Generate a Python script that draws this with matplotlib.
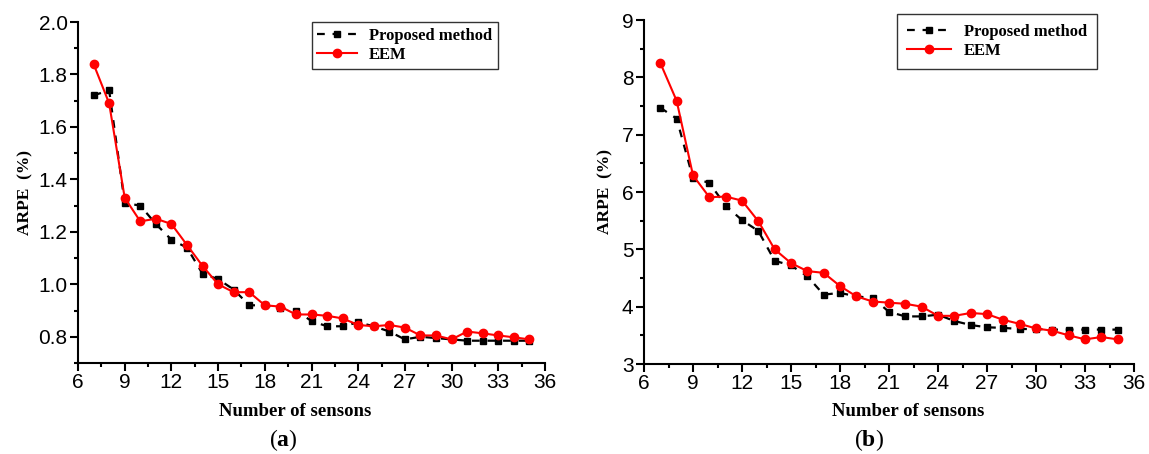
import numpy as np
import matplotlib
matplotlib.use("Agg")
import matplotlib.pyplot as plt
from matplotlib.ticker import MultipleLocator, FormatStrFormatter

plt.rcParams["font.family"] = ["Liberation Sans", "DejaVu Sans"]
plt.rcParams["mathtext.fontset"] = "custom"
plt.rcParams["mathtext.rm"] = "Liberation Serif"
plt.rcParams["mathtext.bf"] = "Liberation Serif:bold"

# number of sensors on the x axis
n_sensors = list(range(7, 36))

# (a) ARPE in %
proposed_a = [1.72, 1.74, 1.31, 1.30, 1.23, 1.17, 1.14, 1.04, 1.02, 0.98,
              0.92, 0.92, 0.91, 0.90, 0.86, 0.84, 0.84, 0.855, 0.84, 0.82,
              0.79, 0.80, 0.795, 0.79, 0.785, 0.785, 0.785, 0.785, 0.785]
eem_a = [1.84, 1.69, 1.33, 1.24, 1.25, 1.23, 1.15, 1.07, 1.00, 0.97,
         0.97, 0.92, 0.915, 0.885, 0.885, 0.88, 0.87, 0.845, 0.84, 0.845,
         0.835, 0.805, 0.805, 0.79, 0.82, 0.813, 0.805, 0.798, 0.79]

# (b) ARPE in %
proposed_b = [7.47, 7.28, 6.24, 6.16, 5.76, 5.51, 5.32, 4.80, 4.72, 4.53,
              4.21, 4.24, 4.18, 4.15, 3.91, 3.83, 3.83, 3.86, 3.75, 3.68,
              3.64, 3.63, 3.61, 3.61, 3.60, 3.60, 3.60, 3.60, 3.60]
eem_b = [8.25, 7.59, 6.29, 5.91, 5.92, 5.85, 5.49, 5.00, 4.76, 4.62,
         4.59, 4.36, 4.18, 4.09, 4.07, 4.05, 4.00, 3.84, 3.84, 3.89,
         3.87, 3.77, 3.70, 3.62, 3.58, 3.50, 3.43, 3.47, 3.43]

W, H = 1149, 454
fig = plt.figure(figsize=(W / 100, H / 100), dpi=100)

def px_axes(x0, x1, y0, y1):
    """axes from pixel box (left, right, top, bottom)"""
    return fig.add_axes([x0 / W, 1 - y1 / H, (x1 - x0) / W, (y1 - y0) / H])

def style_axes(ax, ylim, ymaj, ymin):
    ax.set_xlim(6, 36)
    ax.set_ylim(*ylim)
    ax.xaxis.set_major_locator(MultipleLocator(3))
    ax.xaxis.set_minor_locator(MultipleLocator(1.5))
    ax.yaxis.set_major_locator(MultipleLocator(ymaj))
    ax.yaxis.set_minor_locator(MultipleLocator(ymin))
    for s in ["top", "right"]:
        ax.spines[s].set_visible(False)
    for s in ["left", "bottom"]:
        ax.spines[s].set_linewidth(1.5)
    ax.tick_params(which="major", direction="out", length=5.5, width=1.5,
                   labelsize=15, pad=2)
    ax.tick_params(which="minor", direction="out", length=3, width=1.5)

def draw(ax, prop, eem):
    ax.plot(n_sensors, prop, color="black", lw=1.6, ls=(0, (3.5, 3.5)),
            marker="s", ms=5, label="Proposed method", zorder=2)
    ax.plot(n_sensors, eem, color="red", lw=1.5, marker="o", ms=6,
            label="EEM", zorder=3)

ax1 = px_axes(78, 545, 22, 363)
draw(ax1, proposed_a, eem_a)
style_axes(ax1, (0.7, 2.0), 0.2, 0.1)
ax1.yaxis.set_major_formatter(FormatStrFormatter("%.1f"))

ax2 = px_axes(644, 1134, 20, 364)
draw(ax2, proposed_b, eem_b)
style_axes(ax2, (3, 9), 1, 0.5)

panels = [
    # axes, xlabel centre (px), ylabel x offset, legend corner (px), legend pads
    (ax1, (295, 411), -0.113, (498, 22), dict(borderpad=0.35, handlelength=2.4,
                                              handletextpad=0.7)),
    (ax2, (908, 411), -0.078, (1097, 14), dict(borderpad=0.6, handlelength=2.6,
                                               handletextpad=0.8)),
]
for ax, (lx, ly), ylx, (gx, gy), pads in panels:
    bbox = ax.get_position()
    ax.set_xlabel("Number of sensons", family="Liberation Serif",
                  weight="bold", size=13.5)
    ax.xaxis.set_label_coords((lx / W - bbox.x0) / bbox.width,
                              ((1 - ly / H) - bbox.y0) / bbox.height)
    ax.xaxis.label.set_va("center")
    ax.set_ylabel("ARPE  (%)", family="Liberation Serif", weight="bold",
                  size=12.5)
    ax.yaxis.set_label_coords(ylx, 0.5)
    ax.yaxis.label.set_va("center")
    leg = ax.legend(loc="upper right",
                    bbox_to_anchor=(gx / W, 1 - gy / H),
                    bbox_transform=fig.transFigure, borderaxespad=0,
                    prop=dict(family="Liberation Serif", weight="bold", size=12),
                    frameon=True, fancybox=False, edgecolor="black",
                    labelspacing=0.2, **pads)
    leg.get_frame().set_linewidth(1.0)

fig.text(283 / W, 1 - 440 / H, r"($\mathbf{a}$)", ha="center", va="center",
         family="Liberation Serif", size=17)
fig.text(869 / W, 1 - 440 / H, r"($\mathbf{b}$)", ha="center", va="center",
         family="Liberation Serif", size=17)

fig.savefig("out.png", dpi=100)
